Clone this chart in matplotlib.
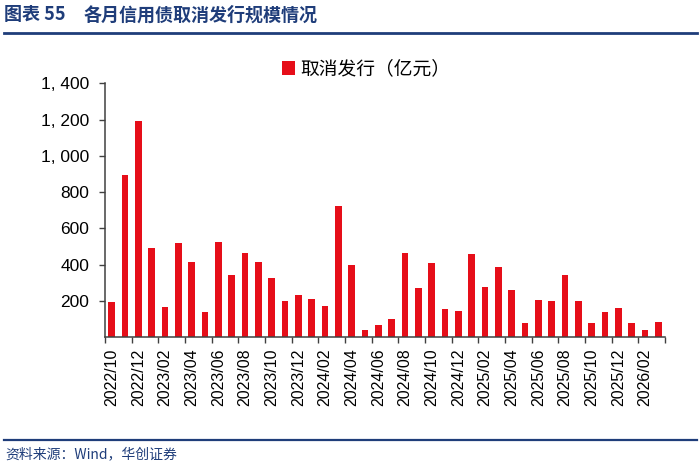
import matplotlib
matplotlib.use("Agg")
import matplotlib.pyplot as plt
from matplotlib.lines import Line2D
import pandas as pd

months = [p.strftime("%Y/%m") for p in pd.period_range("2022-10", "2026-03", freq="M")]
values = [196, 893, 1191, 494, 165, 522, 417, 138, 527, 344,
          467, 417, 325, 202, 235, 213, 175, 722, 397, 40,
          66, 99, 467, 272, 408, 158, 147, 461, 276, 386,
          261, 81, 208, 202, 342, 202, 81, 142, 164, 81,
          39, 87]
series_name = "取消发行（亿元）"
title_head = "图表 55"
title_body = "各月信用债取消发行规模情况"
source = "资料来源：Wind，华创证券"
yticks = [200, 400, 600, 800, 1000, 1200, 1400]

CJK = ["Noto Sans CJK SC", "DejaVu Sans"]
NUM = ["Liberation Sans", "DejaVu Sans"]
NAVY = "#1F3D7A"
RED = "#E60E19"
AX = "#404040"

fig = plt.figure(figsize=(7, 4.66), dpi=100)
ax = fig.add_axes([105/700, 1-337.3/466, 560/700, 254/466])

x = list(range(len(months)))
bars = ax.bar(x, values, width=0.5, color=RED, label=series_name)

ax.set_xlim(-0.5, len(months) - 0.5)
ax.set_ylim(0, 1400)
for s in ["top", "right"]:
    ax.spines[s].set_visible(False)
for s in ["left", "bottom"]:
    ax.spines[s].set_color(AX)
    ax.spines[s].set_linewidth(1.1)

ax.set_yticks(yticks)
ax.set_yticklabels([f"{v:,}".replace(",", ", ") for v in yticks], fontfamily=NUM, fontsize=12.5)
ax.tick_params(axis="y", direction="out", length=4.5, width=1, color=AX, pad=7)

ax.set_xticks(x[::2])
ax.set_xticklabels(months[::2], rotation=90, fontfamily=NUM, fontsize=11.5)
ax.tick_params(axis="x", which="major", length=0, pad=8)
ax.set_xticks([i - 0.5 for i in range(0, len(months) + 1, 2)], minor=True)
ax.tick_params(axis="x", which="minor", direction="out", length=4, width=1, color=AX)

fig.legend(handles=[bars], labels=[series_name], loc="center",
           bbox_to_anchor=(366/700, 1-69/466), frameon=False,
           prop={"family": CJK, "size": 13.5}, handlelength=0.7, handleheight=0.7,
           handletextpad=0.3)

fig.text(4/700, 1-15/466, title_head, fontfamily=CJK, fontsize=13, fontweight="bold",
         color=NAVY, va="center", ha="left")
fig.text(84/700, 1-15/466, title_body, fontfamily=CJK, fontsize=13, fontweight="bold",
         color=NAVY, va="center", ha="left")
fig.add_artist(Line2D([0.005, 0.995], [1-33/466, 1-33/466], transform=fig.transFigure,
                      color=NAVY, linewidth=2))
fig.add_artist(Line2D([0.005, 0.995], [1-440/466, 1-440/466], transform=fig.transFigure,
                      color=NAVY, linewidth=1.6))
fig.text(5/700, 1-454/466, source, fontfamily=CJK, fontsize=10, color=NAVY,
         va="center", ha="left")

fig.savefig("out.png", dpi=100)
